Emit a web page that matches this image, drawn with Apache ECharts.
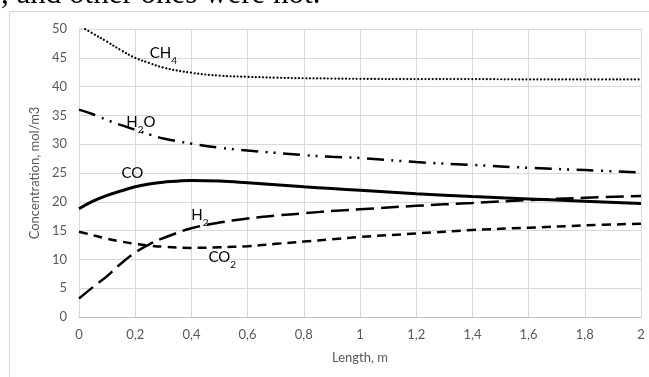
<!DOCTYPE html>
<html>
<head>
<meta charset="utf-8">
<script src="https://cdn.jsdelivr.net/npm/echarts@6/dist/echarts.min.js"></script>
<style>
  html, body { margin: 0; padding: 0; background: #fff; }
  #chart { width: 649px; height: 377px; }
</style>
</head>
<body>
<div id="chart"></div>
<script>
// Reactor length positions (m)
const lengthM = [0, 0.05, 0.1, 0.15, 0.2, 0.25, 0.3, 0.4, 0.5, 0.6, 0.7, 0.8, 0.9, 1.0, 1.2, 1.4, 1.6, 1.8, 2.0];

// Concentrations along the reactor (mol/m3)
const ch4 = [50.6, 49.2, 47.8, 46.3, 45.0, 44.1, 43.3, 42.4, 41.9, 41.7, 41.55, 41.45, 41.4, 41.35, 41.3, 41.3, 41.25, 41.25, 41.25];
const h2o = [36.0, 35.2, 34.2, 33.3, 32.5, 31.7, 31.0, 30.1, 29.4, 28.9, 28.5, 28.1, 27.8, 27.6, 26.9, 26.4, 25.9, 25.5, 25.1];
const co  = [18.8, 20.1, 21.1, 21.9, 22.6, 23.1, 23.4, 23.7, 23.6, 23.3, 22.95, 22.6, 22.3, 22.0, 21.4, 20.9, 20.5, 20.1, 19.7];
const h2  = [3.2, 5.2, 7.1, 9.3, 11.2, 12.6, 13.7, 15.4, 16.4, 17.1, 17.6, 18.0, 18.4, 18.7, 19.3, 19.8, 20.3, 20.7, 21.0];
const co2 = [14.8, 14.2, 13.6, 13.1, 12.7, 12.4, 12.2, 12.0, 12.1, 12.3, 12.7, 13.1, 13.5, 13.9, 14.5, 15.1, 15.5, 15.9, 16.2];

// Curve annotations: [x, y, main text, subscript, trailing text]
const tagCH4 = [0.30, 45.9, 'CH', '4', ''];
const tagH2O = [0.22, 34.0, 'H', '2', 'O'];
const tagCO  = [0.19, 25.1, 'CO', '', ''];
const tagH2  = [0.43, 17.9, 'H', '2', ''];
const tagCO2 = [0.51, 10.6, 'CO', '2', ''];

const FONT = 'Lato, "Noto Sans", sans-serif';
const pair = ys => lengthM.map((x, i) => [x, ys[i]]);

function tag(t) {
  const txt = '{m|' + t[2] + '}' + (t[3] ? '{s|' + t[3] + '}' : '') + (t[4] ? '{m|' + t[4] + '}' : '');
  return {
    symbol: 'circle',
    symbolSize: 0,
    silent: true,
    data: [{ coord: [t[0], t[1]] }],
    label: {
      show: true,
      position: 'inside',
      formatter: txt,
      rich: {
        m: { fontFamily: FONT, fontSize: 15, color: '#000', lineHeight: 17, verticalAlign: 'bottom' },
        s: { fontFamily: FONT, fontSize: 10, color: '#000', lineHeight: 17, verticalAlign: 'bottom', padding: [0, 0, -5, 0] }
      }
    }
  };
}

function line(name, ys, style, t) {
  return {
    name: name,
    type: 'line',
    data: pair(ys),
    smooth: 0.4,
    showSymbol: false,
    symbol: 'none',
    clip: true,
    lineStyle: Object.assign({ color: '#000' }, style),
    markPoint: tag(t)
  };
}

const chart = echarts.init(document.getElementById('chart'));
chart.setOption({
  animation: false,
  backgroundColor: '#fff',
  grid: { left: 79, right: 8, top: 29, bottom: 60 },
  xAxis: {
    type: 'value',
    min: 0, max: 2, interval: 0.2,
    name: 'Length, m',
    nameLocation: 'middle',
    nameGap: 34,
    nameTextStyle: { fontFamily: FONT, fontSize: 13, color: '#595959' },
    axisLine: { lineStyle: { color: '#bfbfbf', width: 1 } },
    axisTick: { show: false },
    axisLabel: {
      margin: 11, fontFamily: FONT, fontSize: 13, color: '#595959',
      formatter: v => String(Math.round(v * 10) / 10).replace('.', ',')
    },
    splitLine: { show: true, lineStyle: { color: '#d9d9d9', width: 1 } }
  },
  yAxis: {
    type: 'value',
    min: 0, max: 50, interval: 5,
    name: 'Concentration, mol/m3',
    nameLocation: 'middle',
    nameGap: 31,
    nameTextStyle: { fontFamily: FONT, fontSize: 13, color: '#595959' },
    axisLine: { show: true, lineStyle: { color: '#d9d9d9', width: 1 } },
    axisTick: { show: false },
    axisLabel: { margin: 12, fontFamily: FONT, fontSize: 13, color: '#595959' },
    splitLine: { show: true, lineStyle: { color: '#d9d9d9', width: 1 } }
  },
  series: [
    line('CH4', ch4, { width: 2.2, type: [0.01, 3.6], cap: 'round' }, tagCH4),
    line('H2O', h2o, { width: 2.5, type: [17, 7.5, 2, 6, 2, 7.5], cap: 'butt' }, tagH2O),
    line('CO', co, { width: 3, type: 'solid' }, tagCO),
    line('H2', h2, { width: 2.5, type: [18, 7], cap: 'butt' }, tagH2),
    line('CO2', co2, { width: 2.5, type: [9, 6], cap: 'butt' }, tagCO2)
  ],
  graphic: [
    {
      type: 'rect', silent: true, z: -1,
      shape: { x: 9.5, y: 11.5, width: 700, height: 400 },
      style: { fill: 'none', stroke: '#d9d9d9', lineWidth: 1 }
    },
    {
      type: 'text', silent: true,
      x: -11, y: -5,
      style: {
        text: 's, and other ones were not.',
        fontFamily: '"Liberation Serif", serif',
        fontSize: 31,
        fill: '#000',
        textVerticalAlign: 'middle'
      }
    }
  ]
});
</script>
</body>
</html>
